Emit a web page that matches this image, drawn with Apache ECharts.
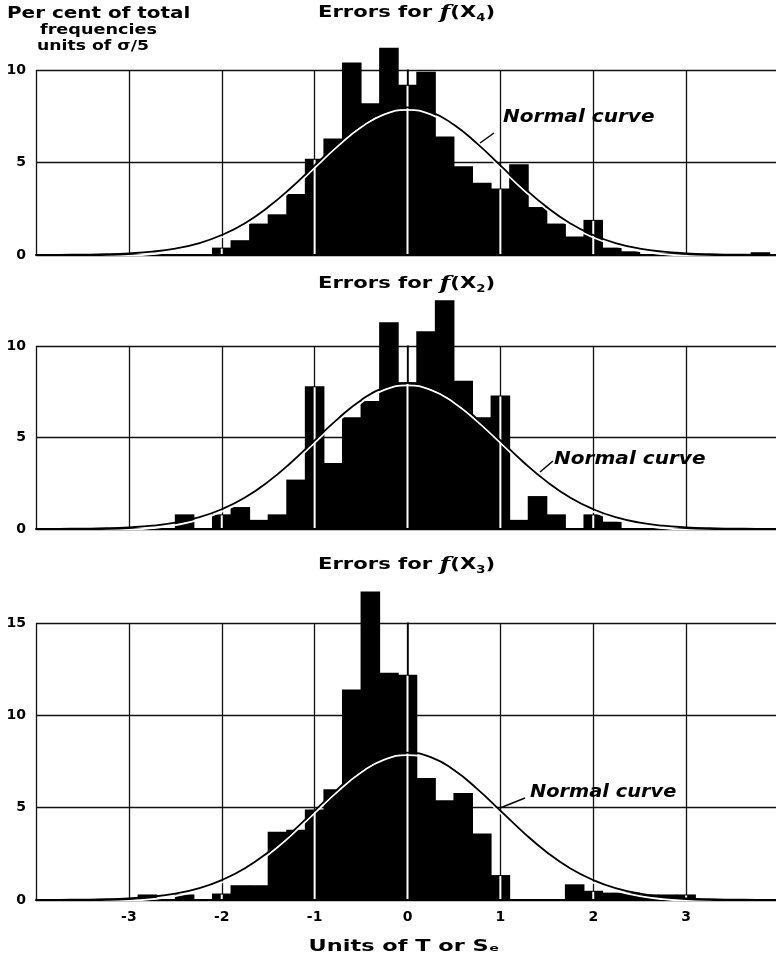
<!DOCTYPE html>
<html>
<head>
<meta charset="utf-8">
<script src="https://cdn.jsdelivr.net/npm/echarts@6/dist/echarts.min.js"></script>
<style>
  html, body { margin: 0; background: #fff; }
  #chart { width: 776px; height: 965px; }
</style>
</head>
<body>
<div id="chart"></div>
<script>
// bin centres (units of sigma, bins 0.2 wide) and per cent of total frequencies
const binsX4 = [-2.0, -1.8, -1.6, -1.4, -1.2, -1.0, -0.8, -0.6, -0.4, -0.2, 0, 0.2, 0.4, 0.6, 0.8, 1.0, 1.2, 1.4, 1.6, 1.8, 2.0, 2.2, 2.4, 2.8, 3.0, 3.8];
const freqX4 = [0.4, 0.8, 1.7, 2.2, 3.3, 5.2, 6.3, 10.4, 8.2, 11.2, 9.2, 9.9, 6.4, 4.8, 3.9, 3.6, 4.9, 2.6, 1.7, 1.0, 1.9, 0.4, 0.2, 0.1, 0.1, 0.15];

const binsX2 = [-2.4, -2.0, -1.8, -1.6, -1.4, -1.2, -1.0, -0.8, -0.6, -0.4, -0.2, 0, 0.2, 0.4, 0.6, 0.8, 1.0, 1.2, 1.4, 1.6, 2.0, 2.2];
const freqX2 = [0.8, 0.8, 1.2, 0.5, 0.8, 2.7, 7.8, 3.6, 6.1, 7.0, 11.3, 8.0, 10.8, 12.5, 8.1, 6.1, 7.3, 0.5, 1.8, 0.8, 0.8, 0.4];

const binsX3 = [-2.8, -2.4, -2.0, -1.8, -1.6, -1.4, -1.2, -1.0, -0.8, -0.6, -0.4, -0.2, 0, 0.2, 0.4, 0.6, 0.8, 1.0, 1.8, 2.0, 2.2, 2.4, 2.6, 2.8, 3.0];
const freqX3 = [0.3, 0.3, 0.35, 0.8, 0.8, 3.7, 3.8, 4.9, 6.0, 11.4, 16.7, 12.3, 12.2, 6.6, 5.4, 5.8, 3.6, 1.35, 0.85, 0.5, 0.4, 0.4, 0.3, 0.3, 0.3];

// normal curve
const curveX = [-4, -3.75, -3.5, -3.25, -3, -2.75, -2.5, -2.25, -2, -1.75, -1.5, -1.25, -1, -0.75, -0.5, -0.25, 0,
  0.25, 0.5, 0.75, 1, 1.25, 1.5, 1.75, 2, 2.25, 2.5, 2.75, 3, 3.25, 3.5, 3.75, 4];
const curveY = [0.003, 0.01, 0.02, 0.04, 0.09, 0.18, 0.35, 0.63, 1.08, 1.72, 2.59, 3.65, 4.84, 6.02, 7.04, 7.74, 7.98,
  7.74, 7.04, 6.02, 4.84, 3.65, 2.59, 1.72, 1.08, 0.63, 0.35, 0.18, 0.09, 0.04, 0.02, 0.01, 0.003];

const yMax = [10, 10, 15];
const panelTitles = ['4', '2', '3'];

const FONT = 'DejaVu Sans';
const chart = echarts.init(document.getElementById('chart'));

const grids = [
  { left: 36, right: -3, top: 70, height: 185, outerBoundsMode: 'none' },
  { left: 36, right: -3, top: 346, height: 183, outerBoundsMode: 'none' },
  { left: 36, right: -3, top: 623, height: 277, outerBoundsMode: 'none' },
];

const xAxes = grids.map((g, i) => ({
  type: 'value', gridIndex: i, min: -4, max: 4, interval: 1,
  axisLine: { show: true, onZero: false, lineStyle: { color: '#000', width: 2 } },
  axisTick: { show: false },
  axisLabel: {
    show: i === 2, margin: 10, color: '#000', fontFamily: FONT, fontWeight: 'bold', fontSize: 14,
    formatter: (v) => (v === -4 || v === 4 ? '' : String(v)),
  },
  splitLine: { show: true, lineStyle: { color: '#111', width: 1.3 } },
}));

const yAxes = grids.map((g, i) => ({
  type: 'value', gridIndex: i, min: 0, max: yMax[i], interval: 5,
  axisLine: { show: true, lineStyle: { color: '#000', width: 1.5 } },
  axisTick: { show: false },
  axisLabel: { margin: 10, color: '#000', fontFamily: FONT, fontWeight: 'bold', fontSize: 14 },
  splitLine: { show: true, lineStyle: { color: '#111', width: 1.3 } },
}));

function histSeries(i, xs, ys) {
  return {
    type: 'custom', xAxisIndex: i, yAxisIndex: i, clip: false, z: 2,
    data: xs.map((x, k) => [x, ys[k]]),
    encode: { x: 0, y: 1 },
    renderItem: (params, api) => {
      const x = api.value(0), y = api.value(1);
      const p0 = api.coord([x - 0.1, 0]);
      const p1 = api.coord([x + 0.1, y]);
      const children = [{
        type: 'rect',
        shape: { x: p0[0] - 0.5, y: p1[1], width: p1[0] - p0[0] + 1, height: p0[1] - p1[1] },
        style: { fill: '#000', stroke: null },
      }];
      // gridlines show white where they cross the solid bars
      if (Math.abs(x - Math.round(x)) < 1e-6) {
        const pc = api.coord([x, 0]);
        children.push({
          type: 'line', z2: 5,
          shape: { x1: pc[0], y1: p0[1] - 1, x2: pc[0], y2: p1[1] + 1 },
          style: { stroke: '#fff', lineWidth: 2 },
        });
      }
      return { type: 'group', children };
    },
  };
}

function curveSeries(i) {
  return {
    type: 'line', xAxisIndex: i, yAxisIndex: i, z: 3, smooth: true, symbol: 'none',
    data: curveX.map((x, k) => [x, curveY[k]]),
    lineStyle: { color: '#000', width: 1.8, shadowColor: '#fff', shadowOffsetY: 2.5, shadowBlur: 0 },
  };
}

const titleRich = {
  a: { fontFamily: FONT, fontWeight: 'bold', fontSize: 16, fill: '#000', lineHeight: 20 },
  f: { fontFamily: 'DejaVu Serif', fontStyle: 'italic', fontWeight: 'bold', fontSize: 19, fill: '#000', lineHeight: 20 },
  s: { fontFamily: FONT, fontWeight: 'bold', fontSize: 10, fill: '#000', lineHeight: 20, verticalAlign: 'bottom', padding: [8, 0, 0, 0] },
};
const titleY = [13, 284, 565];

const noteStyle = { fontFamily: FONT, fontStyle: 'italic', fontWeight: 'bold', fontSize: 17, fill: '#000', verticalAlign: 'middle' };
const notes = [
  { x: 503, y: 118, sx: 1.18, arrow: [[480, 143], [494, 133]] },
  { x: 554, y: 460, sx: 1.18, arrow: [[540, 472], [553, 461]] },
  { x: 530, y: 793, sx: 1.14, arrow: [[500, 808], [525, 798]] },
];

function label(text, x, y, size, sx, extra) {
  return {
    type: 'text', x, y, scaleX: sx, z: 10,
    style: Object.assign({ text, fontFamily: FONT, fontWeight: 'bold', fontSize: size, fill: '#000', verticalAlign: 'middle' }, extra || {}),
  };
}

const graphic = [
  label('Per cent of total', 7, 14, 15, 1.33),
  label('frequencies', 40, 30, 14, 1.26),
  label('units of \u03c3/5', 37, 46, 14, 1.23),
  label('Units of T or S\u2091', 404, 947, 16, 1.4, { align: 'center' }),
];
panelTitles.forEach((sub, i) => {
  graphic.push({
    type: 'text', x: 318, y: titleY[i], scaleX: 1.32, z: 10,
    style: { text: '{a|Errors for }{f|f}{a|(X}{s|' + sub + '}{a|)}', rich: titleRich, verticalAlign: 'middle' },
  });
});
notes.forEach((n) => {
  graphic.push({ type: 'text', x: n.x, y: n.y, scaleX: n.sx, z: 10, style: Object.assign({ text: 'Normal curve' }, noteStyle) });
  graphic.push({
    type: 'polyline', z: 10, shape: { points: n.arrow },
    style: { stroke: '#000', lineWidth: 1.5 },
  });
});

chart.setOption({
  backgroundColor: '#fff',
  animation: false,
  grid: grids,
  xAxis: xAxes,
  yAxis: yAxes,
  series: [
    histSeries(0, binsX4, freqX4), curveSeries(0),
    histSeries(1, binsX2, freqX2), curveSeries(1),
    histSeries(2, binsX3, freqX3), curveSeries(2),
  ],
  graphic,
});
</script>
</body>
</html>
